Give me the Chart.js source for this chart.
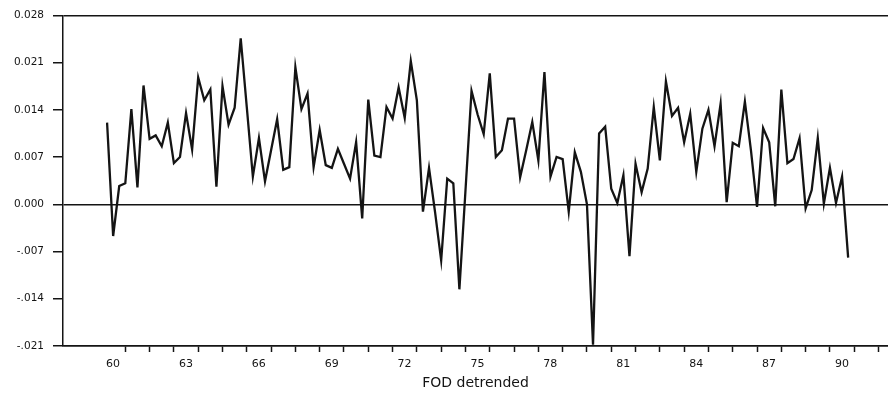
<!DOCTYPE html>
<html>
<head>
<meta charset="utf-8">
<script src="https://cdn.jsdelivr.net/npm/chart.js@4.4.1/dist/chart.umd.min.js"></script>
<style>
  html, body { margin: 0; padding: 0; background: #ffffff; }
  #wrap { width: 888px; height: 393px; }
</style>
</head>
<body>
<div id="wrap"><canvas id="c" width="888" height="393"></canvas></div>
<script>
// ---- data (quarterly, first observation 1960 Q2) ----
const firstQuarter = 1960.25;
const fodDetrended = [
  0.0121, -0.0047, 0.0027, 0.0031, 0.0141, 0.0025, 0.0176, 0.0097, 0.0102, 0.0086,
  0.0121, 0.0061, 0.0070, 0.0135, 0.0081, 0.0188, 0.0154, 0.0170, 0.0026, 0.0175,
  0.0118, 0.0143, 0.0246, 0.0144, 0.0041, 0.0098, 0.0034, 0.0080, 0.0126, 0.0051,
  0.0055, 0.0203, 0.0141, 0.0164, 0.0055, 0.0110, 0.0058, 0.0054, 0.0082, 0.0060,
  0.0038, 0.0092, -0.0021, 0.0155, 0.0072, 0.0070, 0.0144, 0.0127, 0.0173, 0.0128,
  0.0212, 0.0154, -0.0011, 0.0054, -0.0012, -0.0083, 0.0038, 0.0031, -0.0126, 0.0020,
  0.0168, 0.0133, 0.0104, 0.0194, 0.0070, 0.0080, 0.0127, 0.0127, 0.0040, 0.0080,
  0.0122, 0.0065, 0.0196, 0.0041, 0.0070, 0.0067, -0.0011, 0.0077, 0.0048, 0.0000,
  -0.0208, 0.0105, 0.0115, 0.0023, 0.0002, 0.0043, -0.0077, 0.0060, 0.0018, 0.0053,
  0.0144, 0.0065, 0.0182, 0.0131, 0.0143, 0.0092, 0.0134, 0.0048, 0.0112, 0.0140,
  0.0086, 0.0149, 0.0003, 0.0091, 0.0086, 0.0152, 0.0080, -0.0004, 0.0113, 0.0092,
  -0.0003, 0.0170, 0.0061, 0.0067, 0.0098, -0.0006, 0.0021, 0.0098, 0.0001, 0.0054,
  0.0002, 0.0041, -0.0079
];
const yTickValues = [-0.021, -0.014, -0.007, 0, 0.007, 0.014, 0.021, 0.028];
const yTickLabels = ["-.021", "-.014", "-.007", "0.000", "0.007", "0.014", "0.021", "0.028"];
const xTickYears = [1960, 1961, 1962, 1963, 1964, 1965, 1966, 1967, 1968, 1969, 1970,
  1971, 1972, 1973, 1974, 1975, 1976, 1977, 1978, 1979, 1980, 1981, 1982, 1983, 1984,
  1985, 1986, 1987, 1988, 1989, 1990, 1991, 1992];
const xLabelYears = [1960, 1963, 1966, 1969, 1972, 1975, 1978, 1981, 1984, 1987, 1990];
const xTitle = "FOD detrended";

const points = fodDetrended.map((v, i) => ({ x: firstQuarter + i * 0.25, y: v }));

const ink = '#141414';

new Chart(document.getElementById('c'), {
  type: 'line',
  data: {
    datasets: [{
      data: points,
      borderColor: ink,
      borderWidth: 2.3,
      pointRadius: 0,
      tension: 0,
      fill: false
    }]
  },
  options: {
    responsive: false,
    animation: false,
    devicePixelRatio: 1,
    layout: { padding: { top: 14, right: 0, left: 0, bottom: 0 } },
    plugins: { legend: { display: false }, tooltip: { enabled: false } },
    scales: {
      x: {
        type: 'linear',
        min: 1958.436,
        max: 1992.39,
        afterFit: (s) => { s.height = 47; },
        afterBuildTicks: (s) => { s.ticks = xTickYears.map(v => ({ value: v })); },
        grid: {
          display: true, drawOnChartArea: false, drawTicks: true, tickLength: 6, tickWidth: 1.5,
          tickColor: (ctx) => ctx.index === 0 ? 'rgba(0,0,0,0)' : ink
        },
        border: { display: true, color: ink, width: 1.5 },
        ticks: {
          autoSkip: false,
          maxRotation: 0,
          padding: 6,
          labelOffset: 12,
          color: ink,
          font: { family: 'DejaVu Sans', size: 11 },
          callback: (v) => xLabelYears.includes(v) ? String(v).slice(2) : ''
        },
        title: {
          display: true,
          text: xTitle,
          color: ink,
          font: { family: 'DejaVu Sans', size: 14 },
          padding: { top: 0, bottom: 1 }
        }
      },
      y: {
        type: 'linear',
        min: -0.021,
        max: 0.028,
        afterFit: (s) => { s.width = 63; },
        afterBuildTicks: (s) => { s.ticks = yTickValues.map(v => ({ value: v })); },
        grid: {
          display: true,
          drawOnChartArea: true,
          drawTicks: true,
          tickLength: 10,
          tickColor: ink,
          tickWidth: 1.5,
          lineWidth: 1.5,
          color: (ctx) => (ctx.index === 3 || ctx.index === 7 || ctx.index === 0) ? ink : 'rgba(0,0,0,0)'
        },
        border: { display: true, color: ink, width: 1.5 },
        ticks: {
          padding: 9,
          color: ink,
          font: { family: 'DejaVu Sans', size: 10.5 },
          callback: (v, i) => yTickLabels[i]
        }
      }
    }
  }
});
</script>
</body>
</html>
